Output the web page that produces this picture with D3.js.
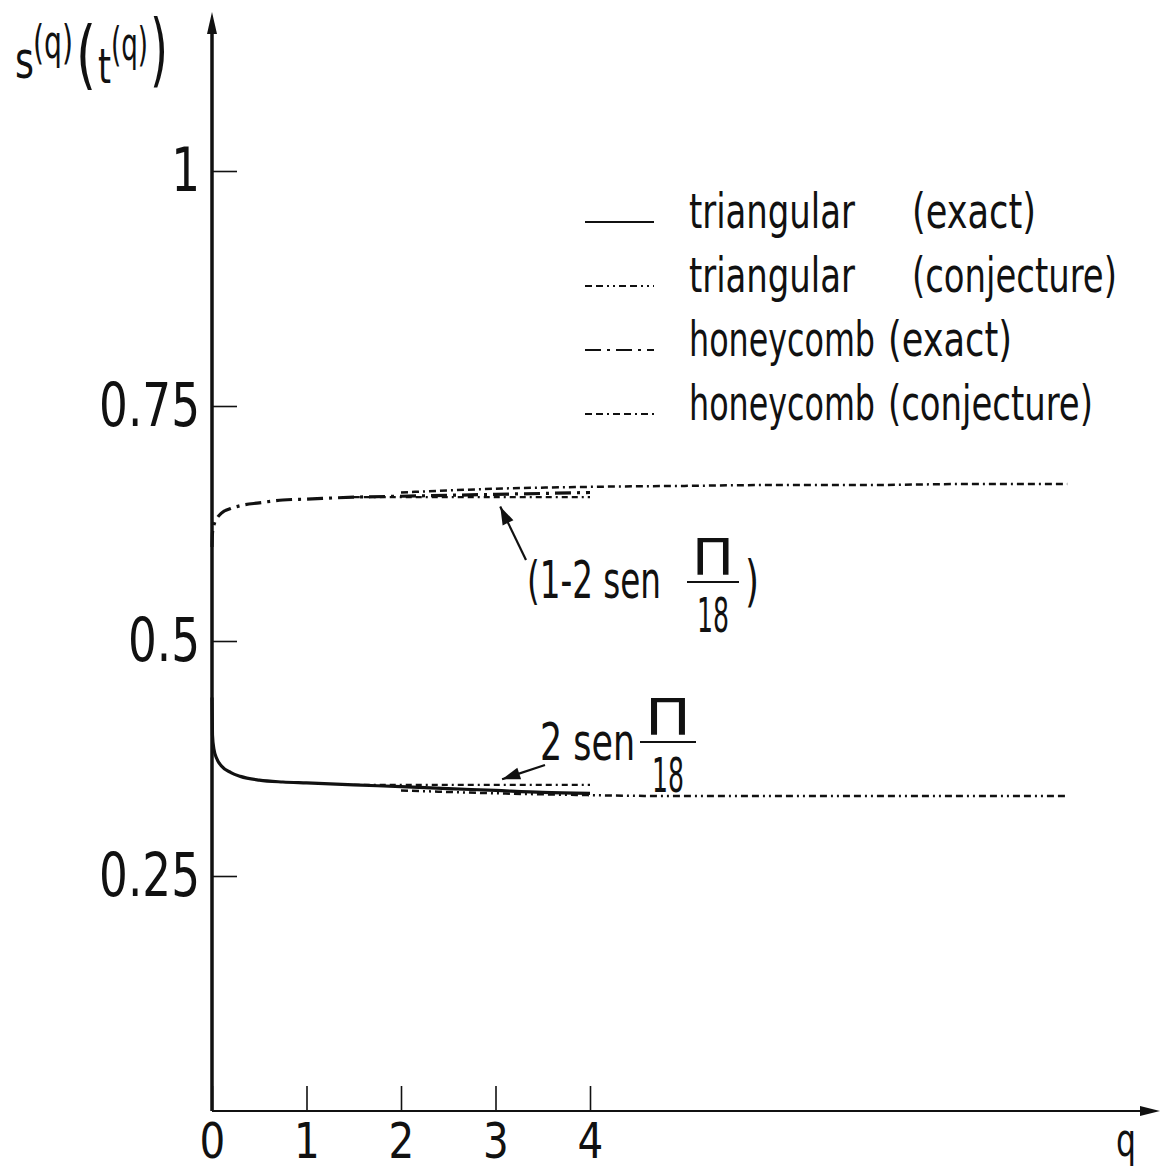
<!DOCTYPE html>
<html>
<head>
<meta charset="utf-8">
<script src="https://cdn.jsdelivr.net/npm/d3@7"></script>
<style>
  body { margin: 0; background: #fff; }
  svg text { font-family: "DejaVu Sans Condensed", "Liberation Sans Narrow", sans-serif; fill: #111; }
</style>
</head>
<body>
<script>
// values
const qExact = [0, 0.005, 0.02, 0.05, 0.1, 0.2, 0.3, 0.5, 0.75, 1, 1.5, 2, 2.5, 3, 3.5, 4]
const triExact = [0.44, 0.40, 0.385, 0.375, 0.367, 0.360, 0.356, 0.352, 0.350, 0.349, 0.347, 0.345, 0.343, 0.341, 0.339, 0.338]
const honExact = [0.60, 0.615, 0.623, 0.630, 0.636, 0.641, 0.644, 0.647, 0.650, 0.651, 0.653, 0.654, 0.655, 0.656, 0.657, 0.658]

const qConj = [2, 3, 4, 5, 6, 7, 8, 9.05]
const triConj = [0.341, 0.338, 0.336, 0.335, 0.335, 0.335, 0.335, 0.335]
const honConj = [0.658, 0.662, 0.664, 0.665, 0.666, 0.666, 0.667, 0.667]

// limits 1-2 sen(pi/18) and 2 sen(pi/18)
const limitValues = [0.653, 0.347]
const limitRange = [1.5, 4]

const xTicks = [0, 1, 2, 3, 4]
const yTicks = [0.25, 0.5, 0.75, 1]
const yTickLabels = ["0.25", "0.5", "0.75", "1"]

const legendNames = ["triangular", "triangular", "honeycomb", "honeycomb"]
const legendKinds = ["(exact)", "(conjecture)", "(exact)", "(conjecture)"]

const dashes = {
  triExact: null,
  triConj: "7,4,7,4,2,4,2,4",
  honExact: "16,6,3,6",
  honConj: "7,4,7,4,2,4",
  limit: "6,4,6,4,2,4"
}

const width = 1163, height = 1171

const svg = d3.select("body").append("svg")
    .attr("width", width)
    .attr("height", height)

// the lettering in the figure is narrow, so squeeze texts horizontally
function squeeze(sel, f) {
  sel.each(function() {
    let t = d3.select(this)
    let tx = +t.attr("x") || 0
    t.attr("transform", `translate(${tx},0) scale(${f},1) translate(${-tx},0)`)
  })
  return sel
}

function fitText(xp, yp, size, w, str, anchor) {
  let t = svg.append("text").attr("font-size", size).attr("text-anchor", anchor || "start").text(str)
  let nat = t.node().getComputedTextLength()
  t.attr("transform", `translate(${xp},${yp}) scale(${w / nat},1)`)
  return t
}

let x = d3.scaleLinear().domain([0, 10]).range([212, 1157])
let y = d3.scaleLinear().domain([0, 1]).range([1111, 171])

// axes
let yAxis = d3.axisLeft(y)
    .tickValues(yTicks)
    .tickSize(-25)
    .tickPadding(12)
    .tickFormat((d, i) => yTickLabels[i])

let xAxis = d3.axisBottom(x)
    .tickValues(xTicks)
    .tickSize(-25)
    .tickPadding(12)
    .tickFormat(d => d)

let gy = svg.append("g")
    .attr("transform", `translate(${x(0)},0)`)
    .call(yAxis)
gy.select(".domain").remove()
gy.selectAll("line").attr("stroke", "#111").attr("stroke-width", 1.6)
squeeze(gy.selectAll("text").attr("font-size", 60).attr("font-family", null).attr("fill", null), 0.84)

let gx = svg.append("g")
    .attr("transform", `translate(0,${y(0)})`)
    .call(xAxis)
gx.select(".domain").remove()
gx.selectAll("line").attr("stroke", "#111").attr("stroke-width", 1.6)
squeeze(gx.selectAll("text").attr("font-size", 50).attr("font-family", null).attr("fill", null), 0.9)

// axis lines with arrows
const x0 = x(0), y0 = y(0), yTop = 12, xEnd = 1160
svg.append("line").attr("x1", x0).attr("y1", y0).attr("x2", x0).attr("y2", yTop + 10)
    .attr("stroke", "#111").attr("stroke-width", 3.5)
svg.append("path")
    .attr("d", `M${x0},${yTop} L${x0 - 5},${yTop + 22} L${x0 + 5},${yTop + 22} Z`)
    .attr("fill", "#111")
svg.append("line").attr("x1", x0).attr("y1", y0).attr("x2", xEnd - 10).attr("y2", y0)
    .attr("stroke", "#111").attr("stroke-width", 2)
svg.append("path")
    .attr("d", `M${xEnd},${y0} L${xEnd - 20},${y0 - 5} L${xEnd - 20},${y0 + 5} Z`)
    .attr("fill", "#111")

// axis titles
fitText(1116, 1156, 46, 20, "q")

// s^(q) ( t^(q) )
fitText(15, 78, 52, 19, "s")
fitText(33, 58, 46, 40, "(q)")
fitText(76, 80, 74, 20, "(")
fitText(98, 83, 48, 13, "t")
fitText(111, 60, 46, 37, "(q)")
fitText(150, 77, 80, 18, ")")

// curves
const lineGen = d3.line()
    .x(d => x(d[0]))
    .y(d => y(d[1]))
    .curve(d3.curveMonotoneX)

function drawSeries(qs, vs, dash, sw) {
  svg.append("path")
      .datum(qs.map((q, i) => [q, vs[i]]))
      .attr("d", lineGen)
      .attr("fill", "none")
      .attr("stroke", "#111")
      .attr("stroke-width", sw)
      .attr("stroke-dasharray", dash)
}

drawSeries(qConj, triConj, dashes.triConj, 2.5)
drawSeries(qConj, honConj, dashes.honConj, 2.5)
limitValues.forEach(v => drawSeries(limitRange, [v, v], dashes.limit, 2.2))
drawSeries(qExact, triExact, dashes.triExact, 3.2)
drawSeries(qExact, honExact, dashes.honExact, 3.2)

// legend
const legendStyles = [dashes.triExact, dashes.triConj, dashes.honExact, dashes.honConj]
const nameW = {"triangular": 166, "honeycomb": 186}
const kindW = {"(exact)": 124, "(conjecture)": 205}
const legendKindX = [912, 912, 888, 888]
legendNames.forEach((name, i) => {
  let by = 228 + i * 64
  svg.append("line")
      .attr("x1", 585).attr("x2", 654)
      .attr("y1", by - 6).attr("y2", by - 6)
      .attr("stroke", "#111").attr("stroke-width", 2.2)
      .attr("stroke-dasharray", legendStyles[i])
  fitText(689, by, 48, nameW[name], name)
  fitText(legendKindX[i], by, 48, kindW[legendKinds[i]], legendKinds[i])
})

// annotations
function arrow(x1, y1, x2, y2) {
  svg.append("line").attr("x1", x1).attr("y1", y1).attr("x2", x2).attr("y2", y2)
      .attr("stroke", "#111").attr("stroke-width", 2.2)
  let a = Math.atan2(y2 - y1, x2 - x1), L = 18, W = 6
  let bx = x2 - L * Math.cos(a), by = y2 - L * Math.sin(a)
  let px = -Math.sin(a) * W, py = Math.cos(a) * W
  svg.append("path")
      .attr("d", `M${x2},${y2} L${bx + px},${by + py} L${bx - px},${by - py} Z`)
      .attr("fill", "#111")
}

function fraction(cx, lineY, w) {
  fitText(cx, lineY - 8, 50, w - 10, "Π", "middle")
  svg.append("line").attr("x1", cx - w / 2).attr("x2", cx + w / 2)
      .attr("y1", lineY).attr("y2", lineY).attr("stroke", "#111").attr("stroke-width", 2)
  fitText(cx, lineY + 50, 48, 32, "18", "middle")
}

// upper: (1-2 sen pi/18)
fitText(527, 598, 52, 134, "(1-2 sen")
fraction(713, 582, 52)
fitText(745, 600, 56, 14, ")")
arrow(526, 560, x(3.05), y(0.643))

// lower: 2 sen pi/18
fitText(540, 760, 52, 95, "2 sen")
fraction(668, 742, 56)
arrow(545, 765, x(3.07), y(0.353))
</script>
</body>
</html>
